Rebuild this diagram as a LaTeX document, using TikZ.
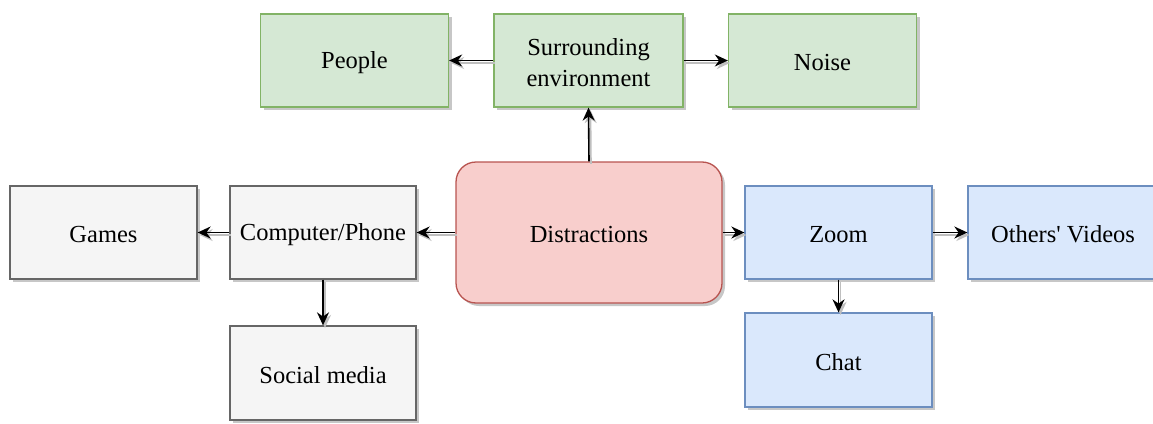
\documentclass[tikz,border=0pt]{standalone}
\usepackage{fontspec}
\setmainfont{Liberation Serif}
\newfontfamily\rawserif{Liberation Serif}
\usetikzlibrary{arrows.meta,shadows}
\definecolor{gfill}{HTML}{D5E8D4}\definecolor{gline}{HTML}{82B366}
\definecolor{rfill}{HTML}{F8CECC}\definecolor{rline}{HTML}{B85450}
\definecolor{bfill}{HTML}{DAE8FC}\definecolor{bline}{HTML}{6C8EBF}
\definecolor{sfill}{HTML}{F5F5F5}\definecolor{sline}{HTML}{666666}
\newcommand\lowtxt[2][2pt]{\raisebox{-#1}[\height][\depth]{#2}}
\tikzset{
  box/.style={draw, line width=1.3pt, inner sep=0pt, align=center,
    font=\fontsize{24.5}{30}\selectfont,
    drop shadow={shadow xshift=3pt, shadow yshift=-3pt, fill=black, opacity=0.22}},
  gbox/.style={box, fill=gfill, draw=gline, minimum width=188pt, minimum height=93pt},
  bbox/.style={box, fill=bfill, draw=bline, minimum width=187pt, minimum height=93pt},
  sbox/.style={box, fill=sfill, draw=sline, minimum width=187pt, minimum height=93pt},
  rbox/.style={box, fill=rfill, draw=rline, rounded corners=20pt, minimum width=266pt, minimum height=141pt},
  conn/.style={line width=1.6pt, -{Stealth[length=13pt,width=12pt]},
    preaction={draw=black!25, line width=1.6pt, transform canvas={shift={(2pt,-2.5pt)}}}},
}
\begin{document}
\begin{tikzpicture}[x=1pt,y=-1pt]
\useasboundingbox (0,0) rectangle (1153,423);
\clip (0,0) rectangle (1153,423);
\node[gbox] (people) at (354.5,60.5) {\lowtxt{People}};
\node[gbox, minimum width=189pt] (env) at (588.5,60.5) {\lowtxt[4pt]{\renewcommand\arraystretch{1.03}\begin{tabular}{@{}c@{}}Surrounding\\environment\end{tabular}}};
\node[gbox] (noise) at (822.5,60.5) {\lowtxt{Noise}};
\node[rbox] (dist) at (589,232.5) {\lowtxt{Distractions}};
\node[sbox, minimum width=186pt] (comp) at (323,232.5) {\lowtxt{Computer/Phone}};
\node[sbox] (games) at (103.5,232.5) {\lowtxt{Games}};
\node[sbox, minimum width=186pt, minimum height=94pt] (social) at (323,373) {\lowtxt{Social media}};
\node[bbox] (zoom) at (838.5,232.5) {\lowtxt{Zoom}};
\node[bbox, minimum width=190pt] (others) at (1063,232.5) {\lowtxt{Others{\rawserif'} Videos}};
\node[bbox, minimum height=94pt] (chat) at (838.5,360) {\lowtxt{Chat}};
\draw[conn] (env.west) -- (people.east);
\draw[conn] (env.east) -- (noise.west);
\draw[conn] (dist.north) -- (env.south);
\draw[conn] (dist.west) -- (comp.east);
\draw[conn] (dist.east) -- (zoom.west);
\draw[conn] (comp.west) -- (games.east);
\draw[conn] (comp.south) -- (social.north);
\draw[conn] (zoom.east) -- (others.west);
\draw[conn] (zoom.south) -- (chat.north);
\end{tikzpicture}
\end{document}
